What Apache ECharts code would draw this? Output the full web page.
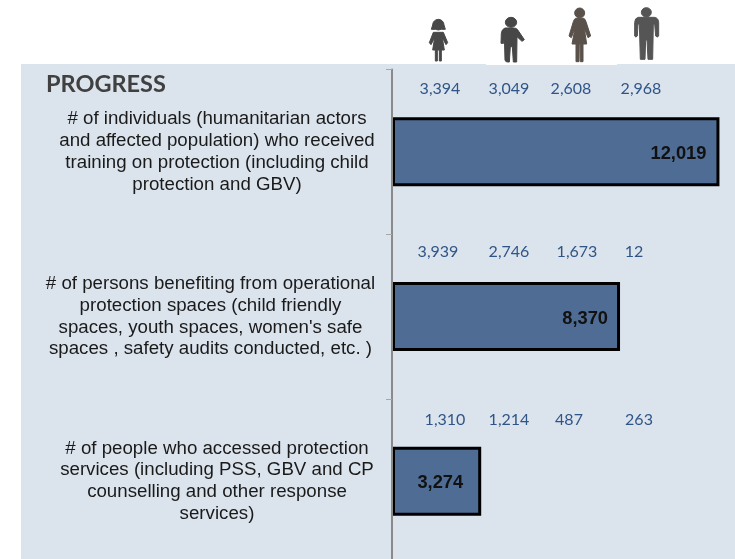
<!DOCTYPE html>
<html><head><meta charset="utf-8">
<style>html,body{margin:0;padding:0;background:#fff}#c{width:735px;height:559px}</style>
<script src="https://cdn.jsdelivr.net/npm/echarts@6/dist/echarts.min.js"></script>
</head><body><div id="c"></div>
<script>
const categories = [
  "# of individuals (humanitarian actors\nand affected population) who received\ntraining on protection (including child\nprotection and GBV)",
  "# of persons benefiting from operational\nprotection spaces (child friendly\nspaces, youth spaces, women's safe\nspaces , safety audits conducted, etc. )",
  "# of people who accessed protection\nservices (including PSS, GBV and CP\ncounselling and other response\nservices)"
];
const totals = [12019, 8370, 3274];
const girls = [3394, 3939, 1310];
const boys = [3049, 2746, 1214];
const women = [2608, 1673, 487];
const men = [2968, 12, 263];
const title = "PROGRESS";

const xMax = 12590;
const labelPadRight = [0, 13, 0];
const labelDist = [13, 12, 18];
const columnX = [[440, 509, 571, 641], [438, 509, 577, 634], [445, 509, 569, 639]];
const rowY = [89, 252, 420];

const fmt = v => v.toLocaleString('en-US');
const iconPaths = [
  {fill:'#484848', d:'M98,75 A17,17 0 0 1 132,75 L136,88 L124,88 A17,12 0 0 1 106,88 L94,88 Z M100,97 L130,97 L143,128 L138,134 L127,113 L133,150 L124,150 L124,183 L118,183 L118,150 L112,150 L112,183 L106,183 L106,150 L98,150 L104,113 L93,134 L88,128 Z'},
  {fill:'#474747', d:'M316,67 A17,15 0 1 1 350,67 A17,15 0 1 1 316,67 Z M315,84 Q305,88 304,100 L303,130 L311,130 L313,105 L315,180 Q316,186 323,186 L328,186 L331,140 L337,140 L340,186 L350,186 L351,110 L366,124 L373,119 L352,88 Q348,84 340,84 Z'},
  {fill:'#5a514b', d:'M524,39 A15,15 0 1 1 554,39 A15,15 0 1 1 524,39 Z M527,55 L551,55 Q556,57 558,65 L572,108 L564,113 L553,85 L560,132 L549,132 L549,185 L541,185 L541,132 L538,132 L537,185 L528,185 L528,132 L516,132 L525,85 L514,113 L507,108 L520,65 Q522,57 527,55 Z'},
  {fill:'#555555', d:'M724,37 A15,14 0 1 1 754,37 A15,14 0 1 1 724,37 Z M715,52 L763,52 Q776,54 776,68 L776,108 Q772,114 767,108 L764,72 L760,72 L758,178 L744,178 L741,120 L737,120 L735,178 L721,178 L718,72 L714,72 L712,108 Q707,114 704,108 L704,68 Q704,54 715,52 Z'}
];

const graphics = [
  {type:'rect', z:-10, silent:true, shape:{x:21,y:64,width:714,height:495}, style:{fill:'#dbe3ed'}},
  {type:'rect', z:-9, silent:true, shape:{x:486,y:64,width:131,height:1}, style:{fill:'#ffffff'}},
  {type:'text', z:5, x:46, y:84, style:{text:title, fill:'#404040', font:'bold 23.5px Lato', verticalAlign:'middle'}}
];
iconPaths.forEach((p, i) => {
  const name = 'personIcon' + i;
  echarts.graphic.registerShape(name, echarts.graphic.extendPath(p.d, {}));
  graphics.push({type:name, z:5, silent:true, x:400, y:0, scaleX:1/3, scaleY:1/3, style:{fill:p.fill, stroke:p.fill, lineWidth:3}});
});
[girls, boys, women, men].forEach((arr, c) => arr.forEach((v, r) => graphics.push({
  type:'text', z:5, x:columnX[r][c], y:rowY[r],
  style:{text:fmt(v), fill:'#2f5587', font:'16px Lato', align:'center', verticalAlign:'middle'}
})));

const chart = echarts.init(document.getElementById('c'), null, {renderer:'canvas'});
chart.setOption({
  animation:false,
  backgroundColor:'#ffffff',
  grid:{left:392, right:0, top:69.5, height:494, outerBoundsMode:'none', containLabel:false},
  xAxis:{type:'value', min:0, max:xMax, show:false},
  yAxis:{
    type:'category', inverse:true, z:4,
    data:categories.map((c,i)=>({value:c, textStyle:{align:'center', padding:[4,labelPadRight[i],0,0]}})),
    axisLine:{show:true, lineStyle:{color:'#8a8a8a', width:2}},
    axisTick:{show:true, length:6, alignWithLabel:false, lineStyle:{color:'#a6a6a6', width:1}},
    axisLabel:{color:'#1a1a1a', fontFamily:'Liberation Sans', fontSize:18.7, lineHeight:21.8, align:'center', margin:175, interval:0}
  },
  series:[{
    type:'bar', barWidth:69,
    itemStyle:{color:'#4f6d94', borderColor:'#000000', borderWidth:3},
    data:totals.map((v,i)=>({value:v, label:{distance:labelDist[i]}})),
    label:{show:true, position:'insideRight', offset:[0,2], color:'#111111', fontFamily:'Liberation Sans', fontWeight:'bold', fontSize:18.3, formatter:p=>fmt(p.value)}
  }],
  graphic:graphics
});
</script></body></html>
